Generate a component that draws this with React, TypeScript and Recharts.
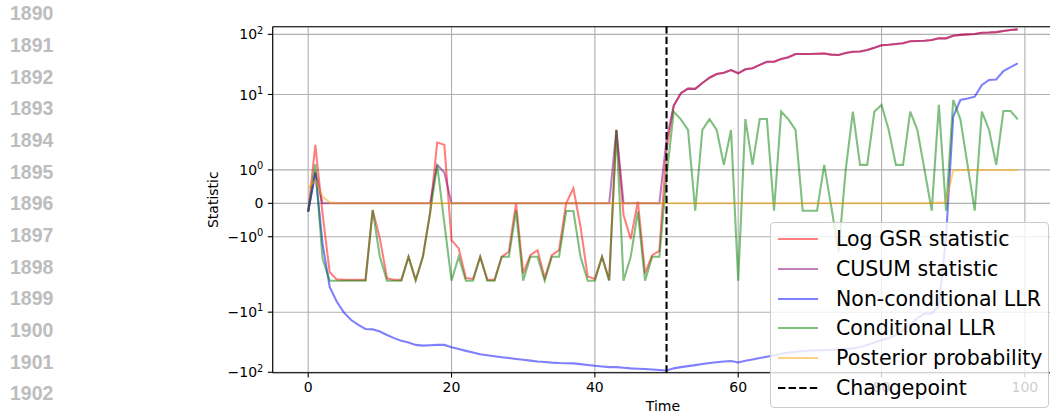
import React from 'react';
import { LineChart, Line, XAxis, YAxis, CartesianGrid, ReferenceLine, Legend, Label } from 'recharts';

const timeSteps: number[] = Array.from({ length: 100 }, (_, i) => i);

const logGsr = [
  -0.25, 1.75, -0.3, -2.17, -2.85, -2.9, -2.9, -2.9, -2.9, -0.2,
  -1.05, -2.73, -2.9, -2.9, -1.6, -2.9, -1.6, -0.3, 1.82, 1.75,
  -1.1, -1.35, -2.7, -2.8, -1.6, -2.9, -2.9, -1.6, -1.45, 0.0,
  -2.26, -1.55, -1.4, -2.7, -1.55, -1.4, 0.0, 0.45, -0.7, -2.55,
  -2.8, -1.6, -2.9, 2.57, -0.35, -1.07, 0.05, -2.26, -1.55, -1.42,
  1.6, 6.5, 10.5, 12.5, 12.4, 15.5, 19, 21.9, 23, 25.5,
  22.5, 26.3, 27.3, 31, 35, 35, 39, 41.5, 47, 47,
  47, 47.5, 48, 46, 45.3, 49, 51.4, 52, 55, 60,
  66, 67, 69, 70.9, 77, 77.5, 78, 80.5, 85.8, 85.8,
  95, 98, 100, 101, 106, 107, 109, 114, 118, 121,
];

const cusum = [
  -0.25, 0.95, 0, 0, 0, 0, 0, 0, 0, 0,
  0, 0, 0, 0, 0, 0, 0, 0, 1.15, 0.92,
  0, 0, 0, 0, 0, 0, 0, 0, 0, 0,
  0, 0, 0, 0, 0, 0, 0, 0, 0, 0,
  0, 0, 0, 2.57, 0, 0, 0, 0, 0, 0,
  1.9, 6.5, 10.5, 12.5, 12.4, 15.5, 19, 21.9, 23, 25.5,
  22.5, 26.3, 27.3, 31, 35, 35, 39, 41.5, 47, 47,
  47, 47.5, 48, 46, 45.3, 49, 51.4, 52, 55, 60,
  66, 67, 69, 70.9, 77, 77.5, 78, 80.5, 85.8, 85.8,
  95, 98, 100, 101, 106, 107, 109, 114, 118, 121,
];

const nonCondLlr = [
  -0.25, 0.9, -1.2, -3.8, -6.7, -10.2, -13.5, -16.3, -19.0, -19.3,
  -21, -24, -27, -30, -32, -35, -36, -35.5, -35, -35,
  -38.4, -41, -44, -47, -50, -52, -54, -56, -58, -60,
  -62, -64, -66, -67.5, -69, -70, -70.5, -71, -73, -75.5,
  -78, -80, -82, -82, -84, -86, -87, -88, -90, -91.5,
  -93, -86, -82, -79, -76, -73, -70, -68, -66, -65,
  -68.5, -64, -61, -58, -55, -52, -49, -47, -45.5, -44.5,
  -43.5, -43, -42.8, -42.5, -42, -41, -40, -38, -35, -32,
  -29, -27, -24, -20, -16, -12.5, -10.5, -10.5, -8, -1,
  4.3, 8.1, 8.6, 9.2, 14.4, 17.4, 17.8, 24.5, 28.5, 32.9,
];

const condLlr = [
  -0.25, 1.17, -1.65, -3.0, -3.0, -3.0, -3.0, -3.0, -3.0, -0.2,
  -1.6, -3.0, -3.0, -3.0, -1.6, -3.0, -1.6, -0.3, 1.15, -0.6,
  -3.0, -1.6, -3.0, -3.0, -1.6, -3.0, -3.0, -1.6, -1.6, -0.22,
  -3.0, -1.6, -1.6, -3.0, -1.6, -1.6, -0.23, -0.23, -1.6, -3.0,
  -3.0, -1.6, -3.0, 2.57, -3.0, -1.6, -0.25, -3.0, -1.6, -1.6,
  0.8, 5.2, 3.86, 2.57, -0.22, 2.57, 3.9, 2.57, 1.15, 2.57,
  -3.0, 3.9, 1.15, 3.9, 3.9, -0.22, 5.2, 3.86, 2.57, -0.22,
  -0.22, -0.22, 1.15, -0.12, -1.45, 1.0, 5.2, 1.15, 1.15, 5.2,
  6.7, 2.57, 1.15, 1.15, 5.2, 2.57, 1.0, -0.22, 6.7, -0.22,
  8.1, 3.86, 1.15, -0.22, 5.2, 2.57, 1.15, 5.3, 5.3, 3.86,
];

const posterior = [
  0.45, 0.7, 0.2, 0.02, 0, 0, 0, 0, 0, 0,
  0, 0, 0, 0, 0, 0, 0, 0, 0, 0,
  0, 0, 0, 0, 0, 0, 0, 0, 0, 0,
  0, 0, 0, 0, 0, 0, 0, 0, 0, 0,
  0, 0, 0, 0, 0, 0, 0, 0, 0, 0,
  0, 0, 0, 0, 0, 0, 0, 0, 0, 0,
  0, 0, 0, 0, 0, 0, 0, 0, 0, 0,
  0, 0, 0, 0, 0, 0, 0, 0, 0, 0,
  0, 0, 0, 0, 0, 0, 0, 0.01, 0.02, 0.03,
  0.98, 1, 1, 1, 1, 1, 1, 1, 1, 1,
];

const changepoint = 50;
const xTicks = [0, 20, 40, 60, 80, 100];
const yTickValues = [-100, -10, -1, 0, 1, 10, 100];
const yearLabels = ['1890', '1891', '1892', '1893', '1894', '1895', '1896', '1897', '1898', '1899', '1900', '1901', '1902'];

const LINTHRESH = 2;
const LINSCALE_ADJ = 1 / (1 - 1 / 10);
const symlog = (v: number) => {
  const a = Math.abs(v);
  if (a <= LINTHRESH) return v * LINSCALE_ADJ;
  return Math.sign(v) * LINTHRESH * (LINSCALE_ADJ + Math.log10(a / LINTHRESH));
};

const yTicks = yTickValues.map(symlog);
const yDomain = [symlog(-101.5), symlog(134)];

const series = [
  { key: 'gsr', label: 'Log GSR statistic', color: '#ff0000', values: logGsr },
  { key: 'cusum', label: 'CUSUM statistic', color: '#800080', values: cusum },
  { key: 'ncllr', label: 'Non-conditional LLR', color: '#0000ff', values: nonCondLlr },
  { key: 'cllr', label: 'Conditional LLR', color: '#008000', values: condLlr },
  { key: 'post', label: 'Posterior probability', color: '#ffa500', values: posterior },
];

const data = timeSteps.map((t, i) => {
  const row: Record<string, number> = { t };
  series.forEach((s) => {
    row[s.key] = symlog(s.values[i]);
  });
  return row;
});

const FONT = "'DejaVu Sans', sans-serif";
const LW = 2.08;

const YTick = (props: any) => {
  const { x, y, payload } = props;
  let idx = 0;
  let best = Infinity;
  yTicks.forEach((tv, i) => {
    const d = Math.abs(tv - payload.value);
    if (d < best) {
      best = d;
      idx = i;
    }
  });
  const v = yTickValues[idx];
  if (v === 0) {
    return (
      <text x={x} y={y} dy={5.1} textAnchor="end" fontFamily={FONT} fontSize={14} fill="#000">
        0
      </text>
    );
  }
  const exp = Math.round(Math.log10(Math.abs(v)));
  return (
    <text x={x} y={y} textAnchor="end" fontFamily={FONT} fontSize={14} fill="#000">
      <tspan dy={5.1}>{(v < 0 ? '\u2212' : '') + '10'}</tspan>
      <tspan dy={-5.8} fontSize={9.8}>{String(exp)}</tspan>
    </text>
  );
};

const XTick = (props: any) => {
  const { x, y, payload } = props;
  return (
    <text x={x} y={y} dy={10} textAnchor="middle" fontFamily={FONT} fontSize={14} fill="#000">
      {String(payload.value)}
    </text>
  );
};

const YLabel = (props: any) => {
  const vb = props.viewBox || { x: 0, y: 0, width: 0, height: 0 };
  const cx = vb.x + vb.width - 59.4;
  const cy = vb.y + vb.height / 2;
  return (
    <text x={cx} y={cy} transform={`rotate(-90, ${cx}, ${cy})`} textAnchor="middle" dominantBaseline="central" fontFamily={FONT} fontSize={14} fill="#000">
      Statistic
    </text>
  );
};

const XLabel = (props: any) => {
  const vb = props.viewBox || { x: 0, y: 0, width: 0, height: 0 };
  const cx = vb.x + vb.width / 2;
  return (
    <text x={cx} y={vb.y + 38.5} textAnchor="middle" fontFamily={FONT} fontSize={14} fill="#000">
      Time
    </text>
  );
};

const legendItems = [
  ...series.map((s) => ({ label: s.label, color: s.color, opacity: 0.5, dash: undefined as string | undefined })),
  { label: 'Changepoint', color: '#000000', opacity: 1, dash: '7.4 3.2' },
];

const LegendBox = () => (
  <div
    style={{
      boxSizing: 'border-box',
      width: 279,
      height: 186.3,
      background: 'rgba(255,255,255,0.8)',
      border: '1px solid #cccccc',
      borderRadius: 4,
      padding: '1.4px 7px 4.1px 7px',
      fontFamily: FONT,
      fontSize: 20.5,
      color: '#000',
      textAlign: 'left',
    }}
  >
    {legendItems.map((it) => (
      <div key={it.label} style={{ height: 29.8, display: 'flex', alignItems: 'center', whiteSpace: 'nowrap' }}>
        <svg width={40} height={10} style={{ display: 'block', flex: 'none' }}>
          <line x1={0} y1={5} x2={40} y2={5} stroke={it.color} strokeOpacity={it.opacity} strokeWidth={LW} strokeDasharray={it.dash} />
        </svg>
        <span style={{ marginLeft: 18, lineHeight: '20px' }}>{it.label}</span>
      </div>
    ))}
  </div>
);

export default function App() {
  return (
    <div style={{ position: 'absolute', left: 0, top: 0, width: 1050, height: 416, overflow: 'hidden', background: '#fff' }}>
      {yearLabels.map((y, i) => (
        <div
          key={y}
          style={{
            position: 'absolute',
            left: 10,
            top: 13.3 + 31.67 * i - 11,
            height: 22,
            lineHeight: '22px',
            fontFamily: "'Liberation Sans', Arial, sans-serif",
            fontWeight: 'bold',
            fontSize: 19.5,
            color: '#bdbdbd',
          }}
        >
          {y}
        </div>
      ))}
      <div style={{ position: 'absolute', left: 0, top: 0 }}>
        <LineChart width={1054} height={416} data={data} margin={{ top: 26.7, right: 0.8, bottom: 0, left: 0 }}>
          <CartesianGrid stroke="#b0b0b0" strokeWidth={1.1} />
          <XAxis
            type="number"
            dataKey="t"
            domain={[-4.95, 103.95]}
            ticks={xTicks}
            allowDataOverflow
            height={43.3}
            tickSize={4.86}
            tickMargin={4.4}
            tick={<XTick />}
            axisLine={{ stroke: '#000', strokeWidth: 1.1 }}
            tickLine={{ stroke: '#000', strokeWidth: 1.1 }}
          >
            <Label content={<XLabel />} />
          </XAxis>
          <YAxis
            type="number"
            domain={yDomain}
            ticks={yTicks}
            allowDataOverflow
            width={272.7}
            tickSize={4.86}
            tickMargin={4.5}
            tick={<YTick />}
            axisLine={{ stroke: '#000', strokeWidth: 1.1 }}
            tickLine={{ stroke: '#000', strokeWidth: 1.1 }}
          >
            <Label content={<YLabel />} />
          </YAxis>
          <ReferenceLine y={yDomain[1]} stroke="#000" strokeWidth={1.1} ifOverflow="visible" />
          {series.map((s) => (
            <Line
              key={s.key}
              type="linear"
              dataKey={s.key}
              stroke={s.color}
              strokeOpacity={0.5}
              strokeWidth={LW}
              dot={false}
              activeDot={false}
              isAnimationActive={false}
            />
          ))}
          <ReferenceLine x={changepoint} stroke="#000" strokeWidth={2.08} strokeDasharray="7.4 3.2" ifOverflow="visible" />
          <Legend
            layout="horizontal"
            verticalAlign="middle"
            align="center"
            content={<LegendBox />}
            wrapperStyle={{ position: 'absolute', left: 770, top: 221.7, width: 279, height: 186.3, margin: 0, padding: 0 }}
          />
        </LineChart>
      </div>
    </div>
  );
}
